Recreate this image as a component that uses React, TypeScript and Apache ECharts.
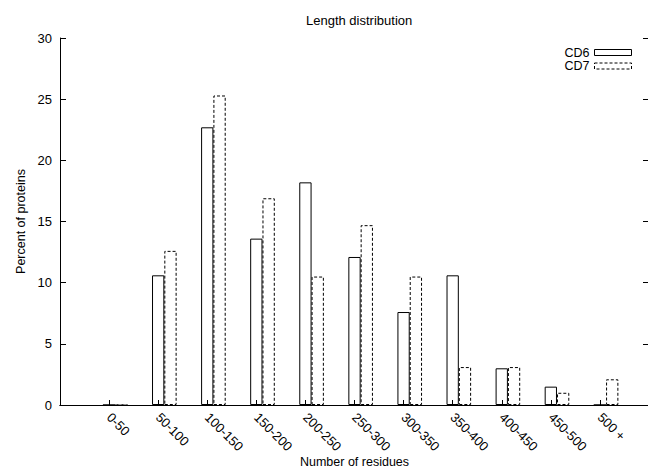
import React, { useEffect, useRef } from 'react';
import * as echarts from 'echarts';

const categories = ['0-50', '50-100', '100-150', '150-200', '200-250', '250-300', '300-350', '350-400', '400-450', '450-500', '500 +'];
const cd6Values = [0, 10.6, 22.7, 13.6, 18.2, 12.1, 7.6, 10.6, 3.0, 1.5, 0];
const cd7Values = [0, 12.6, 25.3, 16.9, 10.5, 14.7, 10.5, 3.1, 3.1, 1.0, 2.1];
const yTicks = [0, 5, 10, 15, 20, 25, 30];
const seriesNames = ['CD6', 'CD7'];

const FONT = 'Liberation Sans, Arial, Helvetica, sans-serif';

export default function App() {
  const ref = useRef<HTMLDivElement>(null);
  useEffect(() => {
    if (!ref.current) return;
    const chart = echarts.init(ref.current, null, { renderer: 'svg' });
    const padded = ['', ...categories, ' '];
    const pad = (arr: number[]) => ['-', ...arr, '-'];
    const solid = { color: 'rgba(0,0,0,0)', borderColor: '#000', borderWidth: 1, borderType: 'solid' as any };
    const dashed = { color: 'rgba(0,0,0,0)', borderColor: '#000', borderWidth: 1, borderType: [3, 2] as any };
    const yMin = yTicks[0];
    const yMax = yTicks[yTicks.length - 1];
    const yInt = yTicks[1] - yTicks[0];
    chart.setOption({
      animation: false,
      backgroundColor: '#fff',
      textStyle: { fontFamily: FONT, color: '#000' },
      title: {
        text: 'Length distribution',
        left: 301,
        top: 9,
        textStyle: { fontFamily: FONT, fontSize: 13, fontWeight: 'normal', color: '#000' },
      },
      legend: {
        orient: 'vertical',
        right: 16,
        top: 46,
        padding: 0,
        align: 'right',
        itemWidth: 37,
        itemHeight: 6,
        itemGap: 0.5,
        icon: 'rect',
        textStyle: { fontFamily: FONT, fontSize: 12.5, lineHeight: 12, color: '#000' },
        data: [
          { name: seriesNames[0], itemStyle: solid },
          { name: seriesNames[1], itemStyle: dashed },
        ],
      },
      grid: { left: 60, right: -1, top: 38, bottom: 64, containLabel: false, outerBoundsMode: 'none' },
      xAxis: [
        {
          type: 'category',
          data: padded,
          boundaryGap: false,
          name: 'Number of residues',
          nameLocation: 'middle',
          nameGap: 50,
          nameMoveOverlap: false,
          nameTextStyle: { fontFamily: FONT, fontSize: 12.5, lineHeight: 13, color: '#000' },
          axisLine: { lineStyle: { color: '#000', width: 1 } },
          axisTick: { inside: true, length: 5, lineStyle: { color: '#000' } },
          axisLabel: { rotate: -45, interval: 0, margin: 10, fontFamily: FONT, fontSize: 13, color: '#000' },
          splitLine: { show: false },
        },
        {
          type: 'category',
          data: padded,
          boundaryGap: false,
          position: 'top',
          axisLine: { lineStyle: { color: '#000', width: 1 } },
          axisTick: { show: false },
          axisLabel: { show: false },
          splitLine: { show: false },
        },
      ],
      yAxis: [
        {
          type: 'value',
          min: yMin,
          max: yMax,
          interval: yInt,
          name: 'Percent of proteins',
          nameLocation: 'middle',
          nameGap: 33,
          nameMoveOverlap: false,
          nameTextStyle: { fontFamily: FONT, fontSize: 12.5, color: '#000' },
          axisLine: { show: true, lineStyle: { color: '#000', width: 1 } },
          axisTick: { show: true, inside: true, length: 6, lineStyle: { color: '#000' } },
          axisLabel: { margin: 8, fontFamily: FONT, fontSize: 13, color: '#000' },
          splitLine: { show: false },
        },
        {
          type: 'value',
          min: yMin,
          max: yMax,
          interval: yInt,
          position: 'right',
          axisLine: { show: true, lineStyle: { color: '#000', width: 1 } },
          axisTick: { show: true, inside: true, length: 6, lineStyle: { color: '#000' } },
          axisLabel: { show: false },
          splitLine: { show: false },
        },
      ],
      series: [
        {
          name: '_pad',
          type: 'bar',
          data: pad(cd6Values).map(() => '-'),
          barWidth: 12.3,
          barGap: '0%',
          silent: true,
        },
        {
          name: seriesNames[0],
          type: 'bar',
          data: pad(cd6Values),
          barWidth: 12.3,
          barGap: '0%',
          itemStyle: solid,
        },
        {
          name: seriesNames[1],
          type: 'bar',
          data: pad(cd7Values),
          barWidth: 12.3,
          barGap: '0%',
          itemStyle: dashed,
        },
      ],
    });
    return () => chart.dispose();
  }, []);
  return (
    <div
      ref={ref}
      style={{ position: 'fixed', left: 0, top: 0, width: 648, height: 469, background: '#fff' }}
    />
  );
}
